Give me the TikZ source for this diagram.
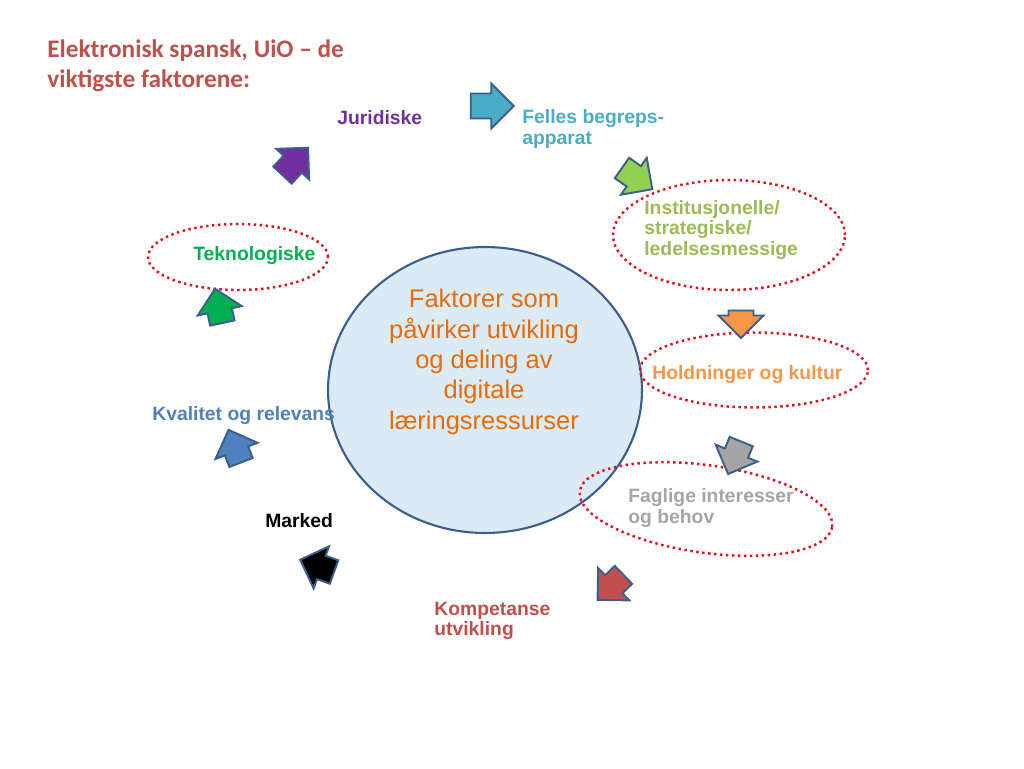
\documentclass[tikz,border=0pt]{standalone}
\usepackage{fontspec}
\setmainfont{Liberation Sans}
\newfontfamily\titlefont{Carlito}
\usepackage{xcolor}
\usetikzlibrary{shapes.geometric, shapes.arrows, positioning}
\definecolor{tittelrod}{HTML}{C0504D}
\definecolor{kant}{HTML}{3B5E8C}
\definecolor{ringrod}{HTML}{E0101E}
\definecolor{kjernefyll}{HTML}{DBEBF5}
\definecolor{kjernetekst}{HTML}{E46C0A}
\definecolor{lilla}{HTML}{7030A0}
\definecolor{turkis}{HTML}{4BACC6}
\definecolor{oliven}{HTML}{9BBB59}
\definecolor{lysgronn}{HTML}{92D050}
\definecolor{oransje}{HTML}{F79646}
\definecolor{gra}{HTML}{A5A5A5}
\definecolor{blaa}{HTML}{4F81BD}
\definecolor{gronn}{HTML}{00B050}

\begin{document}
\begin{tikzpicture}[x=0.02cm, y=-0.02cm,
  lbl/.style={font=\bfseries\fontsize{11}{11.8}\selectfont, align=left, anchor=west, inner sep=0},
  ring/.style={ellipse, draw=ringrod, line width=1.4pt, dotted, inner sep=0},
  pil/.style={single arrow, draw=kant, line width=1.1pt, minimum width=0.9cm, single arrow head extend=0.2cm, inner xsep=0, inner ysep=0.23cm}]
  \useasboundingbox (0,0) rectangle (1024,768);

  % tittel
  \node[font=\titlefont\bfseries\fontsize{14.4}{17.4}\selectfont, text=tittelrod, align=left, anchor=north west, inner sep=0] (tittel) at (47,39) {Elektronisk spansk, UiO – de\\viktigste faktorene:};

  % midten
  \node[ellipse, draw=kant, line width=1.2pt, fill=kjernefyll, minimum width=6.28cm, minimum height=5.72cm] (kjerne) at (485,390) {};
  \node[font=\fontsize{14.5}{17.3}\selectfont, text=kjernetekst, align=center] (ktekst) at (484,362) {Faktorer som\\påvirker utvikling\\og deling av\\digitale\\læringsressurser};

  % ringer
  \node[ring, minimum width=3.6cm, minimum height=1.32cm] (r1) at (238,257) {};
  \node[ring, minimum width=4.64cm, minimum height=2.2cm] (r2) at (729,235) {};
  \node[ring, minimum width=4.56cm, minimum height=1.5cm] (r3) at (754,370) {};
  \node[ring, minimum width=5.1cm, minimum height=1.75cm, rotate=-8] (r4) at (706,509) {};

  % tekster
  \node[lbl, text=lilla] (jur) at (337,118) {Juridiske};
  \node[lbl, text=turkis] (fel) at (522,129) {Felles begreps-\\apparat};
  \node[lbl, text=oliven] (ins) at (644,230) {Institusjonelle/\\strategiske/\\ledelsesmessige};
  \node[lbl, text=oransje] (hol) at (652,375) {Holdninger og kultur};
  \node[lbl, text=gra] (fag) at (628,508) {Faglige interesser\\og behov};
  \node[lbl, text=tittelrod] (kom) at (434,621) {Kompetanse\\utvikling};
  \node[lbl, text=black] (mar) at (265,521) {Marked};
  \node[lbl, text=blaa] (kva) at (152,416) {Kvalitet og relevans};
  \node[lbl, text=gronn] (tek) at (193,256) {Teknologiske};

  % piler
  \foreach \x/\y/\a/\c/\l [count=\i] in {486/106/0/turkis/0.86cm, 632/175/-35/lysgronn/0.74cm,
      741/318/-90/oransje/0.55cm, 737/452/-112/gra/0.7cm, 615/583/-136/tittelrod/0.72cm,
      323/568/160/black/0.72cm, 237/452/111/blaa/0.7cm, 220/312/102/gronn/0.7cm, 291/166/47/lilla/0.75cm}
    \node[pil, fill=\c, rotate=\a, minimum height=\l] (p\i) at (\x,\y) {};
\end{tikzpicture}
\end{document}
